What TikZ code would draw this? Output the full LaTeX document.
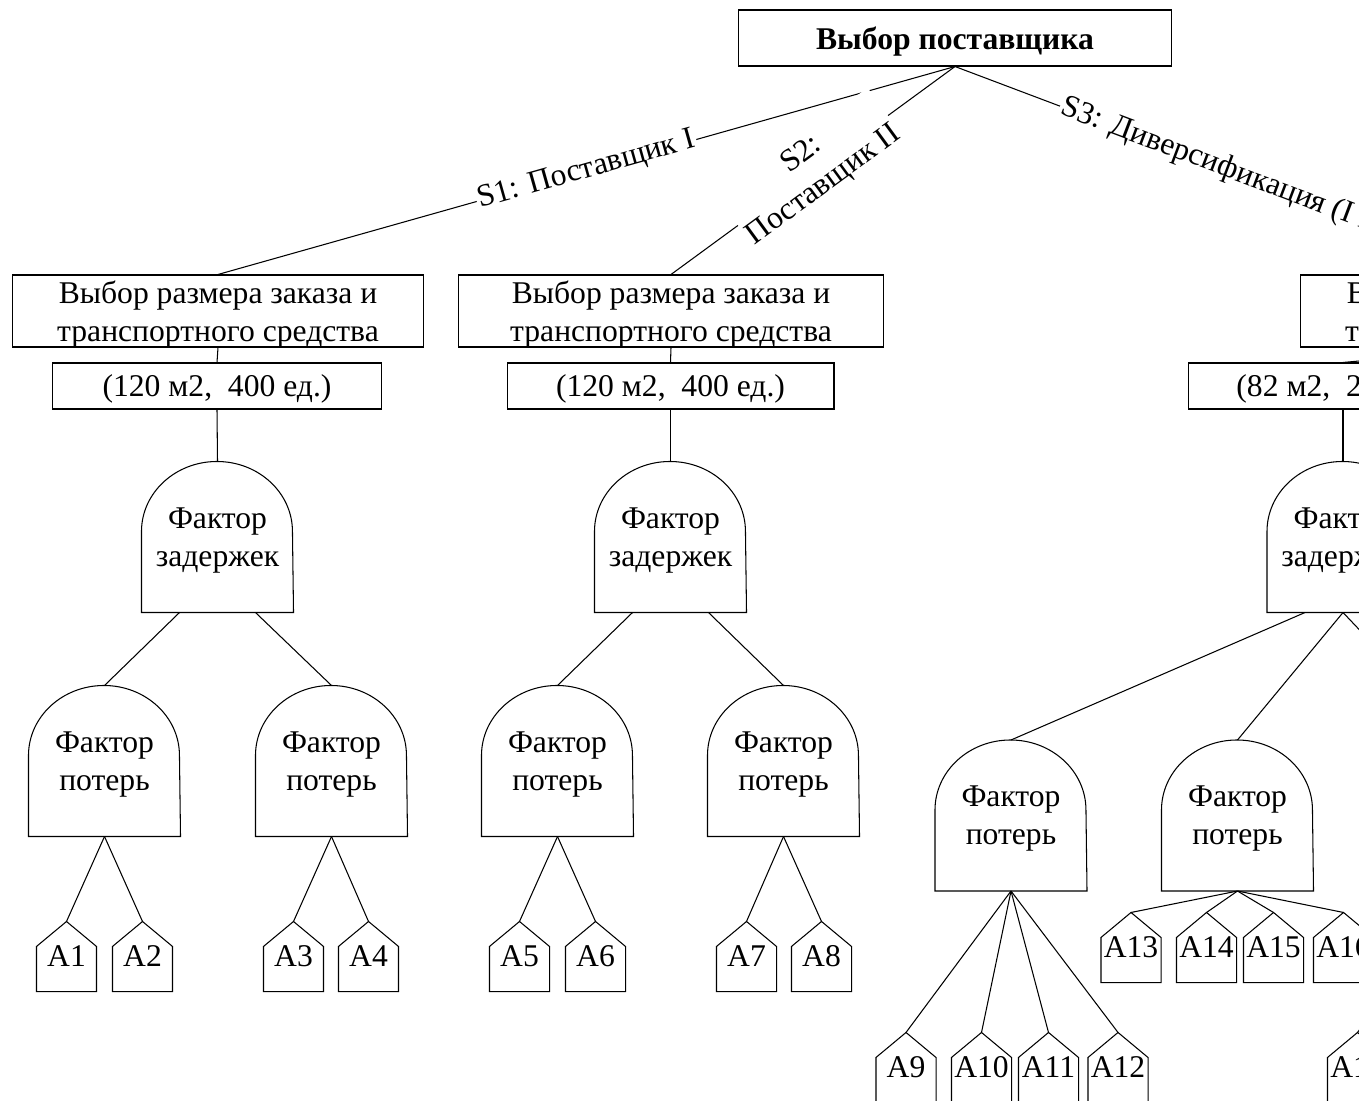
\documentclass[tikz,border=0pt]{standalone}
\usepackage{fontspec}
\setmainfont{Liberation Serif}
\tikzset{
  box/.style={draw,rectangle,align=center,inner sep=0pt,text depth=0pt},
  factor/.style={align=center,minimum width=3.02cm,minimum height=3cm,inner sep=0pt,text depth=0pt},
  leaf/.style={minimum width=1.18cm,minimum height=1.38cm,inner sep=0pt},
  branch/.style={sloped,fill=white,inner sep=1pt,align=center}
}
% rounded-top outline of a factor node
\newcommand{\dome}[1]{\draw (#1.south west) -- ([yshift=-1.4cm]#1.north west)
  arc[start angle=180,end angle=0,x radius=1.51cm,y radius=1.4cm] -- (#1.south east) -- cycle;}
% pentagon outline of an alternative
\newcommand{\house}[1]{\draw (#1.south west) -- ([yshift=-0.5cm]#1.north west) -- (#1.north)
  -- ([yshift=-0.5cm]#1.north east) -- (#1.south east) -- cycle;}
\begin{document}
\begin{tikzpicture}[x=0.02cm,y=-0.02cm,line width=0.6pt,font=\fontsize{18}{21.6}\selectfont]
  \useasboundingbox (0,0) rectangle (1359,1101);
  \clip (0,0) rectangle (1359,1101);
  % decision boxes
  \node[box,minimum width=8.68cm,minimum height=1.12cm,font=\fontsize{18}{21.6}\selectfont\bfseries] (root) at (955,38) {Выбор поставщика};
  \node[box,minimum width=8.24cm,minimum height=1.44cm] (order1) at (218,311) {Выбор размера заказа и\\транспортного средства};
  \node[box,minimum width=8.52cm,minimum height=1.44cm] (order2) at (671,311) {Выбор размера заказа и\\транспортного средства};
  \node[box,minimum width=8.24cm,minimum height=1.44cm] (order3) at (1506,311) {Выбор размера заказа и\\транспортного средства};
  \node[box,minimum width=6.6cm,minimum height=0.92cm] (size1) at (217,386) {(120 м2,~~400 ед.)};
  \node[box,minimum width=6.54cm,minimum height=0.92cm] (size2) at (670.5,386) {(120 м2,~~400 ед.)};
  \node[box,minimum width=6.2cm,minimum height=0.92cm] (size3) at (1343,386) {(82 м2,~~280 ед.)};
  % chance nodes
  \node[factor] (delay1) at (217.5,537) {Фактор\\задержек};
  \node[factor] (delay2) at (670.5,537) {Фактор\\задержек};
  \node[factor] (delay3) at (1343,537) {Фактор\\задержек};
  \node[factor] (loss1) at (104.5,761) {Фактор\\потерь};
  \node[factor] (loss2) at (331.5,761) {Фактор\\потерь};
  \node[factor] (loss3) at (557.5,761) {Фактор\\потерь};
  \node[factor] (loss4) at (783.5,761) {Фактор\\потерь};
  \node[factor] (loss5) at (1011,815.5) {Фактор\\потерь};
  \node[factor] (loss6) at (1237.5,815.5) {Фактор\\потерь};
  \coordinate (loss7) at (1464,740);
  \coordinate (loss7b) at (1464,891);
  % alternatives
  \node[leaf] (a1) at (66.5,956.5) {A1};
  \node[leaf] (a2) at (142.5,956.5) {A2};
  \node[leaf] (a3) at (293.5,956.5) {A3};
  \node[leaf] (a4) at (368.5,956.5) {A4};
  \node[leaf] (a5) at (519.5,956.5) {A5};
  \node[leaf] (a6) at (595.5,956.5) {A6};
  \node[leaf] (a7) at (746.5,956.5) {A7};
  \node[leaf] (a8) at (821.5,956.5) {A8};
  \node[leaf] (a9) at (906,1067.5) {A9};
  \node[leaf] (a10) at (981.5,1067.5) {A10};
  \node[leaf] (a11) at (1048.5,1067.5) {A11};
  \node[leaf] (a12) at (1118,1067.5) {A12};
  \node[leaf] (a13) at (1131,947.5) {A13};
  \node[leaf] (a14) at (1206.5,947.5) {A14};
  \node[leaf] (a15) at (1273.5,947.5) {A15};
  \node[leaf] (a16) at (1343.5,947.5) {A16};
  \node[leaf] (a17) at (1357.5,1067.5) {A17};
  \foreach \n in {delay1,delay2,delay3,loss1,loss2,loss3,loss4,loss5,loss6} {\dome{\n}}
  \foreach \i in {1,...,17} {\house{a\i}}
  % strategies
  \draw (root.south) -- node[branch] {S1: Поставщик I} (order1.north);
  \draw (root.south) -- node[branch] {S2:\\Поставщик II} (order2.north);
  \draw (root.south) -- node[branch,pos=0.19,anchor=west] {S3: Диверсификация (I и II)} (order3.north);
  \foreach \i in {1,2,3} {
    \draw (order\i.south) -- (size\i.north);
    \draw (size\i.south) -- (delay\i.north);
  }
  \draw ([xshift=-0.76cm]delay1.south) -- (loss1.north);
  \draw ([xshift=0.76cm]delay1.south) -- (loss2.north);
  \draw ([xshift=-0.76cm]delay2.south) -- (loss3.north);
  \draw ([xshift=0.76cm]delay2.south) -- (loss4.north);
  \draw ([xshift=-0.76cm]delay3.south) -- (loss5.north);
  \draw (delay3.south) -- (loss6.north);
  \draw (delay3.south) -- (loss7);
  \foreach \l/\a in {1/1,1/2,2/3,2/4,3/5,3/6,4/7,4/8,5/9,5/10,5/11,5/12,6/13,6/14,6/15,6/16}
    \draw (loss\l.south) -- (a\a.north);
  \draw (loss7b) -- (a17.north);
\end{tikzpicture}
\end{document}
